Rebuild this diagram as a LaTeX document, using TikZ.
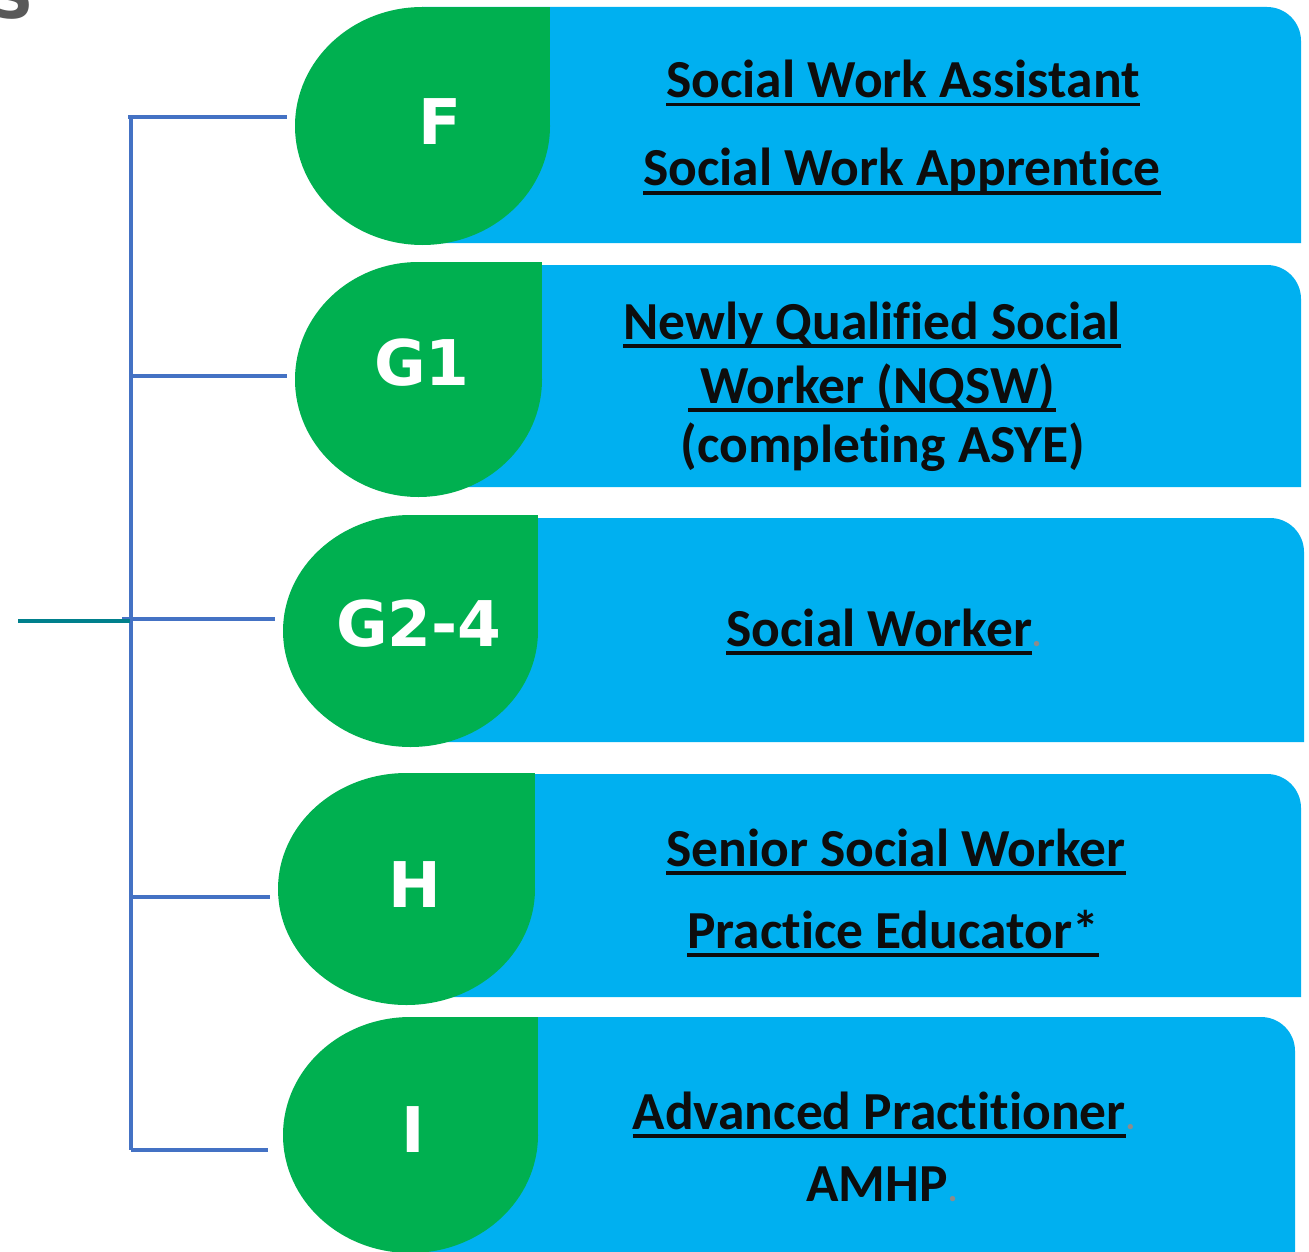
\documentclass[tikz,border=0pt]{standalone}
\usepackage{fontspec}
\setmainfont{Carlito}[Ligatures=NoCommon]
\newfontfamily\tagfont{DejaVu Sans}
\usepackage{tikz}
\usetikzlibrary{
  	positioning,
  	shapes.geometric,
  	calc
  }
\definecolor{leafgreen}{RGB}{0,176,80}
\definecolor{boxblue}{RGB}{0,176,240}
\definecolor{spineblue}{RGB}{68,114,196}
\definecolor{feedteal}{RGB}{0,128,140}
\definecolor{inkblack}{RGB}{13,13,13}
\definecolor{dotgray}{RGB}{140,140,140}
\definecolor{titlegray}{RGB}{89,89,89}
\newcommand\ulbar[1]{\setbox0\hbox{#1}\rlap{\rule[-8.5pt]{\wd0}{3.5pt}}\box0}
\newcommand\greydot{{\color{dotgray}\fontsize{36}{36}\selectfont.}}
\tikzset{
  leaf/.style={ellipse, fill=leafgreen, inner sep=0pt},
  tag/.style={font=\tagfont\bfseries\fontsize{63}{63}\selectfont, text=white, inner sep=0pt},
  role/.style={font=\bfseries\fontsize{53.5}{53.5}\selectfont, text=inkblack, anchor=base, inner sep=0pt},
  branch/.style={draw=spineblue, line width=3.2pt},
  feedline/.style={draw=feedteal, line width=3.2pt}
}

\begin{document}
\begin{tikzpicture}[x=1pt, y=1pt]
  	\path[use as bounding box] (0,0) rectangle (1309,-1252);
	\clip (0,0) rectangle (1309,-1252);
	\fill[white] (0,0) rectangle (1309,-1252);
	\node[font=\tagfont\bfseries\fontsize{60}{60}\selectfont, text=titlegray, anchor=base east, inner sep=0pt] (title) at (34,-19) {S};
	% role boxes
	\fill[boxblue] (422,-7) -- (1267,-7) arc[start angle=90, end angle=0, radius=34] -- (1301,-243) -- (422,-243) -- cycle;
	\fill[boxblue] (418,-265) -- (1267,-265) arc[start angle=90, end angle=0, radius=34] -- (1301,-487) -- (418,-487) -- cycle;
	\fill[boxblue] (410,-518) -- (1270,-518) arc[start angle=90, end angle=0, radius=34] -- (1304,-742) -- (410,-742) -- cycle;
	\fill[boxblue] (406,-774) -- (1267,-774) arc[start angle=90, end angle=0, radius=34] -- (1301,-997) -- (406,-997) -- cycle;
	\fill[boxblue] (410,-1017) -- (1261,-1017) arc[start angle=90, end angle=0, radius=34] -- (1295,-1260) -- (410,-1260) -- cycle;
	% grade leaves
	\fill[leafgreen] (422.5,-126) rectangle (550,-7);
	\node[leaf, minimum width=255pt, minimum height=238pt] (gF) at (422.5,-126) {};
	\fill[leafgreen] (418.5,-379.5) rectangle (542,-262);
	\node[leaf, minimum width=247pt, minimum height=235pt] (gG1) at (418.5,-379.5) {};
	\fill[leafgreen] (410.5,-631) rectangle (538,-515);
	\node[leaf, minimum width=255pt, minimum height=232pt] (gG24) at (410.5,-631) {};
	\fill[leafgreen] (406.5,-889) rectangle (535,-773);
	\node[leaf, minimum width=257pt, minimum height=232pt] (gH) at (406.5,-889) {};
	\fill[leafgreen] (410.5,-1135) rectangle (538,-1017);
	\node[leaf, minimum width=255pt, minimum height=236pt] (gI) at (410.5,-1135) {};
	\node[tag] (tF) at (440,-122) {F};
	\node[tag] (tG1) at (422,-363) {G1};
	\node[tag] (tG24) at (419,-624) {G2-4};
	\node[tag] (tH) at (415,-885) {H};
	\node[tag] (tI) at (413,-1130) {I};
	% roles
	\node[role] (rF1) at (903,-98) {\ulbar{Social Work Assistant}};
	\node[role] (rF2) at (902,-186) {\ulbar{Social Work Apprentice}};
	\node[role] (rG1a) at (872,-339) {\ulbar{Newly Qualified Social}};
	\node[role] (rG1b) at (872,-403) {\ulbar{ Worker (NQSW)}};
	\node[role] (rG1c) at (883,-462) {(completing ASYE)};
	\node[role] (rG24) at (884,-646) {\ulbar{Social Worker}\greydot};
	\node[role] (rH1) at (896,-866) {\ulbar{Senior Social Worker}};
	\node[role] (rH2) at (893,-948) {\ulbar{Practice Educator*}};
	\node[role] (rI1) at (884,-1129) {\ulbar{Advanced Practitioner}\greydot};
	\node[role] (rI2) at (882,-1201) {AMHP\greydot};
	% spine and branches
	\coordinate (spineTop) at (131,-117);
	\coordinate (spineBot) at (131,-1150);
	\coordinate (s1) at (128,-117);
	\coordinate (s2) at (131,-376);
	\coordinate (s3) at (122,-619);
	\coordinate (s4) at (131,-897);
	\coordinate (s5) at (131,-1150);
	\coordinate (feed) at (18,-621);
	\coordinate (hub) at (130,-621);
	\draw[branch] (spineTop) -- (spineBot);
	\draw[branch, shorten >=8pt] (s1) -- (s1 -| gF.west);
	\draw[branch, shorten >=8pt] (s2) -- (s2 -| gG1.west);
	\draw[branch, shorten >=8pt] (s3) -- (s3 -| gG24.west);
	\draw[branch, shorten >=8pt] (s4) -- (s4 -| gH.west);
	\draw[branch, shorten >=15pt] (s5) -- (s5 -| gI.west);
	\draw[feedline] (feed) -- (hub);
\end{tikzpicture}
\end{document}
